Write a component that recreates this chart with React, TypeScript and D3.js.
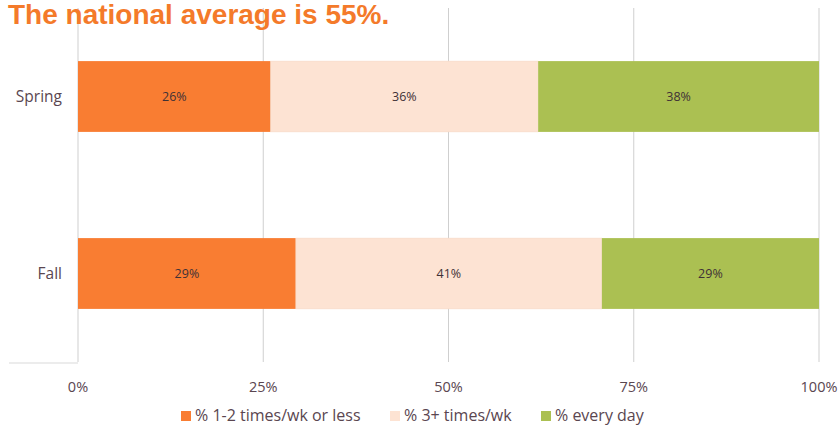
import React from "react";
import * as d3 from "d3";

const categories = ["Spring", "Fall"];
const seriesNames = ["% 1-2 times/wk or less", "% 3+ times/wk", "% every day"];
const seriesColors = ["#F97D32", "#FDE3D3", "#ABC052"];
const lowValues = [26.0, 29.4];
const midValues = [36.1, 41.3];
const dailyValues = [37.9, 29.3];
const tickValues = [0, 0.25, 0.5, 0.75, 1];
const title = "The national average is 55%.";

const W = 840, H = 425;
const left = 78, right = 819, top = 8, bottom = 362;
const textColor = "#5a4650";
const font = "'Open Sans', 'Liberation Sans', sans-serif";

export default function App() {
  const x = d3.scaleLinear().domain([0, 1]).range([left, right]);
  const y = d3.scaleBand().domain(categories).range([top, bottom]).paddingInner(0.6).paddingOuter(0.3);
  const rows = categories.map((c, i) => ({ cat: c, s0: lowValues[i], s1: midValues[i], s2: dailyValues[i] }));
  const stack = d3.stack<any>().keys(["s0", "s1", "s2"]).offset(d3.stackOffsetExpand);
  const series = stack(rows);
  const fmt = d3.format(".0%");

  const legendX = [181, 390, 541];

  return (
    <svg width={W} height={H} style={{ position: "absolute", left: 0, top: 0, display: "block" }}>
      <rect width={W} height={H} fill="#fff" />
      <line x1={9} x2={left} y1={bottom + 1} y2={bottom + 1} stroke="#d9d9d9" />
      {tickValues.map((t) => (
        <line key={t} x1={x(t)} x2={x(t)} y1={top} y2={bottom} stroke="#cfcfcf" strokeWidth={1} />
      ))}
      {series.map((s, si) =>
        s.map((d: any, i: number) => {
          const cat = rows[i].cat;
          const x0 = x(d[0]), x1 = x(d[1]);
          const yy = y(cat)!;
          const val = [lowValues, midValues, dailyValues][si][i];
          return (
            <g key={si + "-" + i}>
              <rect x={x0} y={yy} width={x1 - x0} height={y.bandwidth()} fill={seriesColors[si]}
                stroke={si === 1 ? "#f4d6c4" : "none"} strokeWidth={0.5} />
              <text x={(x0 + x1) / 2} y={yy + y.bandwidth() / 2} dy="0.35em" textAnchor="middle"
                fontFamily={font} fontSize={12.5} fill="#3f3136">
                {fmt(Math.round(val) / 100)}
              </text>
            </g>
          );
        })
      )}
      {categories.map((c) => (
        <text key={c} x={62} y={y(c)! + y.bandwidth() / 2} dy="0.35em" textAnchor="end"
          fontFamily={font} fontSize={15.5} fill={textColor}>{c}</text>
      ))}
      {tickValues.map((t) => (
        <text key={t} x={x(t)} y={392} textAnchor="middle" fontFamily={font} fontSize={14.5} fill={textColor}>
          {fmt(t)}
        </text>
      ))}
      {seriesNames.map((n, i) => (
        <g key={n}>
          <rect x={legendX[i]} y={411} width={10} height={10} fill={seriesColors[i]} />
          <text x={legendX[i] + 14} y={421} fontFamily={font} fontSize={16} fill={textColor}>{n}</text>
        </g>
      ))}
      <text x={8} y={24} fontFamily="'Liberation Sans', Arial, sans-serif" fontWeight="bold" fontSize={28} fill="#F47A2A">
        {title}
      </text>
    </svg>
  );
}
